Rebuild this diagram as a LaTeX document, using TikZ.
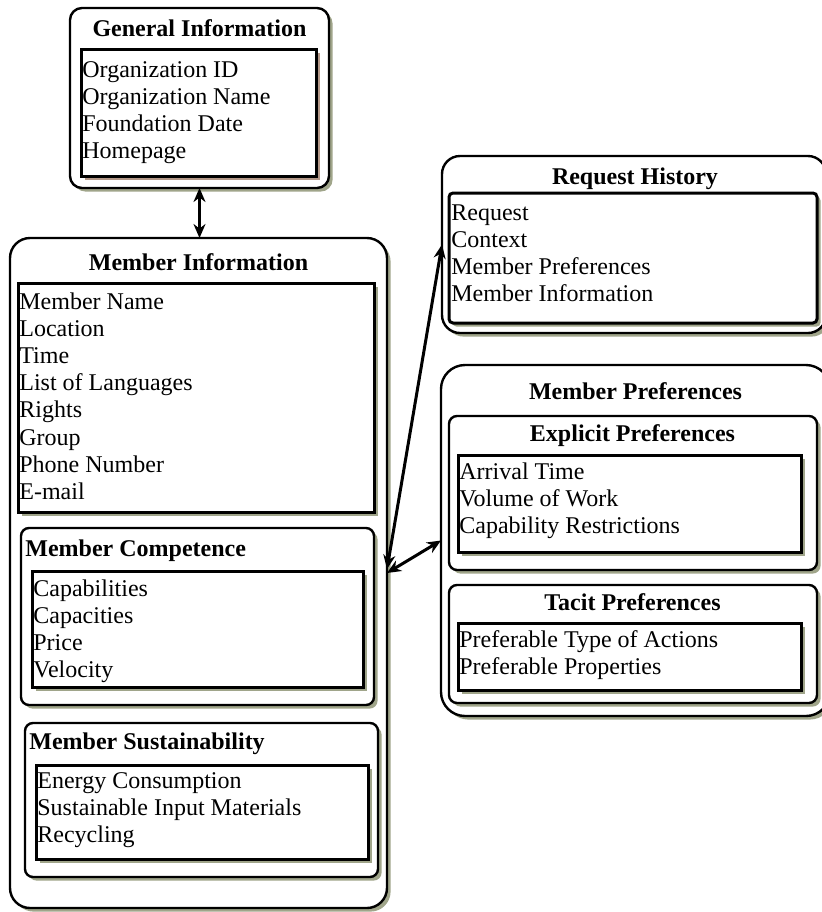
\documentclass[tikz,border=0pt]{standalone}
\usepackage{fontspec}
\setmainfont{Liberation Serif}
\usetikzlibrary{arrows.meta,shadows}
\definecolor{shadegreen}{RGB}{160,165,138}
\definecolor{shadebrown}{RGB}{180,152,136}
\newcommand{\boxat}[6]{\node[#1, minimum width={(#5-#3)*0.5pt}, minimum height={(#6-#4)*0.5pt}] (#2) at (#3,#4) {};}
\newcommand{\heading}[5]{\node[headtext, anchor=base #4] (#1) at (#2,#3) {#5};}
\newcommand{\entries}[4]{\node[listtext] (#1) at (#2,#3) {#4};}
\tikzset{
  pane/.style={draw, fill=white, line width=1.2pt, inner sep=0pt, outer sep=0pt, anchor=north west,
    drop shadow={shadow xshift=1.8pt, shadow yshift=-1.8pt, fill=#1, opacity=1}},
  pane/.default=shadegreen,
  outerpane/.style={pane},
  subpane/.style={pane, rounded corners=4pt},
  listpane/.style={pane=#1, line width=1.5pt},
  listpane/.default=shadegreen,
  headtext/.style={font=\fontsize{12}{13.6}\selectfont\bfseries, inner sep=0pt},
  listtext/.style={font=\fontsize{12}{13.6}\selectfont, align=left, inner sep=0pt, anchor=north west},
  link/.style={line width=1.5pt, {Stealth[length=7pt,width=6pt]}-{Stealth[length=7pt,width=6pt]}}
}

\begin{document}
\begin{tikzpicture}[x=0.5pt, y=-0.5pt]
  \useasboundingbox (0,0) rectangle (821,912);

  \boxat{outerpane, rounded corners=6pt}{geninfo}{70}{8}{329}{188}
  \boxat{listpane=shadebrown}{geninfo-list}{81}{49}{316}{176}
  \heading{geninfo-title}{199.5}{36}{}{General Information}
  \entries{geninfo-items}{82}{61}{Organization ID\\Organization Name\\Foundation Date\\Homepage}

  \boxat{outerpane, rounded corners=10pt}{meminfo}{10}{238}{387}{908}
  \boxat{listpane}{meminfo-list}{18}{283}{374}{512}
  \heading{meminfo-title}{198.5}{270}{}{Member Information}
  \entries{meminfo-items}{19}{292}{Member Name\\Location\\Time\\List of Languages\\Rights\\Group\\Phone Number\\E-mail}

  \boxat{subpane}{competence}{21}{528}{374}{705}
  \boxat{listpane}{competence-list}{32}{571}{363}{687}
  \heading{competence-title}{25}{556}{west}{Member Competence}
  \entries{competence-items}{33}{579}{Capabilities\\Capacities\\Price\\Velocity}

  \boxat{subpane}{sustain}{25}{723}{378}{877}
  \boxat{listpane}{sustain-list}{36}{765}{368}{859}
  \heading{sustain-title}{29}{749}{west}{Member Sustainability}
  \entries{sustain-items}{37}{772}{Energy Consumption\\Sustainable Input Materials\\Recycling}

  \boxat{outerpane, rounded corners=9pt}{reqhist}{442}{156}{826}{333}
  \boxat{listpane, rounded corners=2pt}{reqhist-list}{449}{193}{817}{323}
  \heading{reqhist-title}{635}{184}{}{Request History}
  \entries{reqhist-items}{451}{204}{Request\\Context\\Member Preferences\\Member Information}

  \boxat{outerpane, rounded corners=12pt}{memprefs}{441}{365}{830}{716}
  \heading{memprefs-title}{635.5}{399}{}{Member Preferences}
  \boxat{subpane}{explicit}{449}{416}{817}{570}
  \boxat{listpane}{explicit-list}{458}{455}{801}{552}
  \heading{explicit-title}{632.5}{441}{}{Explicit Preferences}
  \entries{explicit-items}{459}{462}{Arrival Time\\Volume of Work\\Capability Restrictions}

  \boxat{subpane}{tacit}{449}{585}{817}{703}
  \boxat{listpane}{tacit-list}{458}{623}{801}{690}
  \heading{tacit-title}{632.5}{610}{}{Tacit Preferences}
  \entries{tacit-items}{459}{630}{Preferable Type of Actions\\Preferable Properties}

  \draw[link] (geninfo.south) -- (geninfo.south |- meminfo.north);
  \draw[link] ([yshift=2pt]meminfo.east) -- (reqhist.west);
  \draw[link] (meminfo.east) -- (memprefs.west);
\end{tikzpicture}
\end{document}
